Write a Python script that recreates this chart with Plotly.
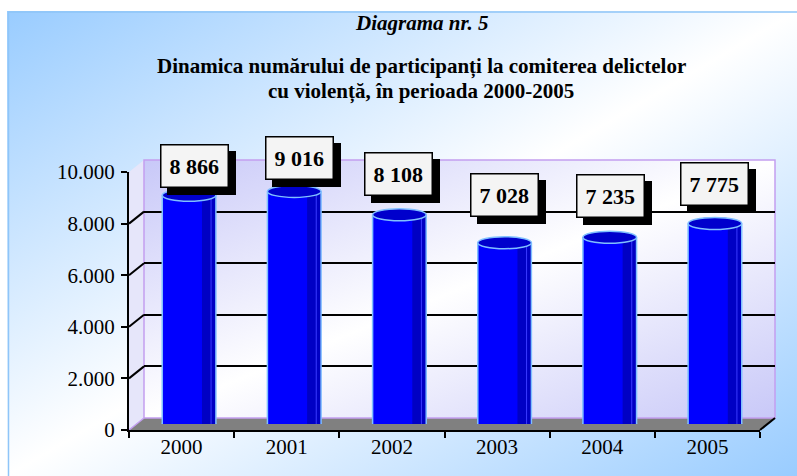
import base64
import plotly.graph_objects as go

# ---------------- data ----------------
YEARS = ["2000", "2001", "2002", "2003", "2004", "2005"]
VALUES = [8866, 9016, 8108, 7028, 7235, 7775]
Y_TICKS = [0, 2000, 4000, 6000, 8000, 10000]
TITLE_1 = "Diagrama nr. 5"
TITLE_2A = "Dinamica numărului de participanți la comiterea delictelor"
TITLE_2B = "cu violență, în perioada 2000-2005"

# ---------------- style / layout ----------------
W, H = 797, 476
FONT = "Liberation Serif, Times New Roman, serif"
BAR_W = 0.51
LABEL_DX = [5, 5, -1, 0, 1, 0]        # manual label offsets (px)
LABEL_DY = [29, 33, 41, 48, 41, 39]

def px_x(p):
    return p / W

def px_y(p):
    return 1 - p / H

# front (axis) plane, back wall plane, mid (bars) plane, in pixels
FRONT = dict(x=(129, 760), y=(430, 172))
BACK = dict(x=(144, 775), y=(418, 160))
MID = dict(x=(136.5, 767.5), y=(424, 166))


def grad_uri(w, h, c1, c2):
    svg = (f'<svg xmlns="http://www.w3.org/2000/svg" width="{w}" height="{h}" '
           f'viewBox="0 0 {w} {h}" preserveAspectRatio="none"><defs>'
           f'<linearGradient id="g" x1="0" y1="0" x2="1" y2="1">'
           f'<stop offset="0" stop-color="{c1}"/><stop offset="0.5" stop-color="{c2}"/>'
           f'<stop offset="1" stop-color="{c1}"/></linearGradient></defs>'
           f'<rect x="0" y="0" width="{w}" height="{h}" fill="url(#g)"/></svg>')
    return "data:image/svg+xml;base64," + base64.b64encode(svg.encode()).decode()


fig = go.Figure()

# invisible trace for the front (labelled) axes
fig.add_trace(go.Scatter(x=YEARS, y=VALUES, mode="markers", marker=dict(opacity=0),
                         hoverinfo="skip", showlegend=False, xaxis="x", yaxis="y"))
# invisible trace for back axes (gridlines)
fig.add_trace(go.Scatter(x=[0, 1], y=[0, 0], mode="markers", marker=dict(opacity=0),
                         hoverinfo="skip", showlegend=False, xaxis="x2", yaxis="y2"))

xs = list(range(len(YEARS)))
# cylinder body
fig.add_trace(go.Bar(x=xs, y=VALUES, width=BAR_W, offset=-BAR_W / 2,
                     marker=dict(color="#0000FF", line=dict(width=0)),
                     showlegend=False, xaxis="x3", yaxis="y3",
                     hovertext=YEARS, hoverinfo="text+y"))
# darker right side of cylinder
SH = 0.26
fig.add_trace(go.Bar(x=xs, y=VALUES, width=BAR_W * SH, offset=BAR_W / 2 - BAR_W * SH,
                     marker=dict(color="#0000C4", line=dict(width=0)),
                     showlegend=False, xaxis="x3", yaxis="y3", hoverinfo="skip"))

shapes = []
EDGE = "#80C0FF"
for i, v in zip(xs, VALUES):
    # bottom rounded edge
    shapes.append(dict(type="circle", xref="x3", yref="y3", ysizemode="pixel", yanchor=0,
                       x0=i - BAR_W / 2, x1=i + BAR_W / 2, y0=-5, y1=5,
                       fillcolor="#0000FF", line=dict(color=EDGE, width=1.5), layer="below"))
    # side outlines
    for sx in (i - BAR_W / 2, i + BAR_W / 2):
        shapes.append(dict(type="line", xref="x3", yref="y3", x0=sx, x1=sx, y0=0, y1=v,
                           line=dict(color=EDGE, width=1.5)))
    # thin highlight inside the dark side
    hx = i + BAR_W / 2 - BAR_W * 0.09
    shapes.append(dict(type="line", xref="x3", yref="y3", x0=hx, x1=hx, y0=0, y1=v,
                       line=dict(color="#3A3AFF", width=1)))
    # top ellipse
    shapes.append(dict(type="circle", xref="x3", yref="y3", ysizemode="pixel", yanchor=v,
                       x0=i - BAR_W / 2, x1=i + BAR_W / 2, y0=-6, y1=6,
                       fillcolor="#0000CC", line=dict(color=EDGE, width=1.5)))

PURPLE = "#C39FF0"
# outer border of the chart area
shapes.append(dict(type="rect", xref="paper", yref="paper", x0=px_x(8.5), x1=1.05,
                   y0=-0.05, y1=px_y(12), line=dict(color="#8FC5F8", width=1.5), layer="below"))
# side wall
fx0, bx0 = FRONT["x"][0], BACK["x"][0]
side_path = (f"M {px_x(fx0)},{px_y(FRONT['y'][0])} L {px_x(bx0)},{px_y(BACK['y'][0])} "
             f"L {px_x(bx0)},{px_y(BACK['y'][1])} L {px_x(fx0)},{px_y(FRONT['y'][1])} Z")
shapes.append(dict(type="path", xref="paper", yref="paper", path=side_path,
                   fillcolor="#E6E6FA", line=dict(width=0), layer="below"))
# floor
floor_path = (f"M {px_x(FRONT['x'][0])},{px_y(FRONT['y'][0])} L {px_x(FRONT['x'][1])},{px_y(FRONT['y'][0])} "
              f"L {px_x(BACK['x'][1])},{px_y(BACK['y'][0])} L {px_x(BACK['x'][0])},{px_y(BACK['y'][0])} Z")
shapes.append(dict(type="path", xref="paper", yref="paper", path=floor_path,
                   fillcolor="#808080", line=dict(width=0), layer="below"))
# back wall border
shapes.append(dict(type="rect", xref="paper", yref="paper",
                   x0=px_x(BACK["x"][0]), x1=px_x(BACK["x"][1]),
                   y0=px_y(BACK["y"][0]), y1=px_y(BACK["y"][1]),
                   line=dict(color=PURPLE, width=1.5), layer="below"))
# connectors between front axis ticks and back wall gridlines
dyp = FRONT["y"][0] - BACK["y"][0]
for t in Y_TICKS:
    edge = t in (Y_TICKS[0], Y_TICKS[-1])
    shapes.append(dict(type="line", xref="paper", yref="y", ysizemode="pixel", yanchor=t,
                       x0=px_x(FRONT["x"][0]), x1=px_x(BACK["x"][0]), y0=0, y1=dyp,
                       line=dict(color=PURPLE if edge else "black", width=1.5 if edge else 2),
                       layer="below"))
# right end of floor (front edge diagonal)
shapes.append(dict(type="line", xref="paper", yref="paper",
                   x0=px_x(FRONT["x"][1]), x1=px_x(BACK["x"][1]),
                   y0=px_y(FRONT["y"][0]), y1=px_y(BACK["y"][0]),
                   line=dict(color="black", width=2)))

annotations = []
LSIZE = 22
for i, v in zip(xs, VALUES):
    txt = "<b>" + f"{v:,}".replace(",", " ") + "</b>"
    # shadow
    annotations.append(dict(x=i, y=v, xref="x3", yref="y3", text=txt, showarrow=False,
                            xanchor="center", yanchor="middle",
                            xshift=LABEL_DX[i] + 7, yshift=LABEL_DY[i] - 7,
                            font=dict(family=FONT, size=LSIZE, color="black"),
                            bgcolor="black", bordercolor="black", borderwidth=1.5, borderpad=8))
    annotations.append(dict(x=i, y=v, xref="x3", yref="y3", text=txt, showarrow=False,
                            xanchor="center", yanchor="middle",
                            xshift=LABEL_DX[i], yshift=LABEL_DY[i],
                            font=dict(family=FONT, size=LSIZE, color="black"),
                            bgcolor="#F4F4F4", bordercolor="black", borderwidth=1.5, borderpad=8))

TFONT = dict(family=FONT, size=21, color="black")
for txt, yy in ((f"<b><i>{TITLE_1}</i></b>", 23), (f"<b>{TITLE_2A}</b>", 67),
                (f"<b>{TITLE_2B}</b>", 91)):
    annotations.append(dict(x=px_x(421), y=px_y(yy), xref="paper", yref="paper",
                            xanchor="center", yanchor="middle",
                            text=txt, showarrow=False, font=TFONT))

images = [
    dict(source=grad_uri(790, 465, "#99CCFF", "#FFFFFF"), xref="paper", yref="paper",
         x=px_x(7), y=px_y(11), sizex=(W - 7) / W, sizey=(H - 11) / H,
         xanchor="left", yanchor="top", sizing="stretch", layer="below"),
    dict(source=grad_uri(631, 258, "#C8C8F8", "#FFFFFF"), xref="paper", yref="paper",
         x=px_x(BACK["x"][0]), y=px_y(BACK["y"][1]),
         sizex=(BACK["x"][1] - BACK["x"][0]) / W, sizey=(BACK["y"][0] - BACK["y"][1]) / H,
         xanchor="left", yanchor="top", sizing="stretch", layer="below"),
]

AXFONT = dict(family=FONT, size=21, color="black")
fig.update_layout(
    template="none",
    width=W, height=H,
    autosize=False,
    margin=dict(l=0, r=0, t=0, b=0, pad=0, autoexpand=False),
    paper_bgcolor="white", plot_bgcolor="rgba(0,0,0,0)",
    separators=",.",
    barmode="overlay",
    showlegend=False,
    hovermode="closest",
    font=dict(family=FONT, color="black"),
    xaxis=dict(domain=[px_x(FRONT["x"][0]), px_x(FRONT["x"][1])], anchor="y", automargin=False,
               type="category", categoryorder="array", categoryarray=YEARS,
               range=[-0.5, len(YEARS) - 0.5], autorange=False,
               tickson="boundaries", ticks="outside", ticklen=6, tickwidth=2, tickcolor="black",
               ticklabelstandoff=-3,
               showline=True, linecolor="black", linewidth=2, showgrid=False, zeroline=False,
               tickfont=AXFONT, fixedrange=True),
    yaxis=dict(domain=[px_y(FRONT["y"][0]), px_y(FRONT["y"][1])], anchor="x", automargin=False,
               range=[0, 10000], autorange=False, tickmode="array", tickvals=Y_TICKS,
               tickformat=",d",
               ticks="outside", ticklen=6, tickwidth=2, tickcolor="black",
               ticklabelstandoff=2,
               showline=True, linecolor="black", linewidth=2, showgrid=False, zeroline=False,
               tickfont=AXFONT, fixedrange=True),
    xaxis2=dict(domain=[px_x(BACK["x"][0]), px_x(BACK["x"][1])], anchor="y2", range=[0, 1],
                automargin=False, showticklabels=False, ticks="", showgrid=False, zeroline=False,
                showline=False, fixedrange=True),
    yaxis2=dict(domain=[px_y(BACK["y"][0]), px_y(BACK["y"][1])], anchor="x2", range=[0, 10000],
                automargin=False, tickmode="array", tickvals=Y_TICKS[1:-1], showticklabels=False,
                ticks="", showgrid=True, gridcolor="black", gridwidth=2, zeroline=False,
                showline=False, fixedrange=True),
    xaxis3=dict(domain=[px_x(MID["x"][0]), px_x(MID["x"][1])], anchor="y3", range=[-0.5, 5.5],
                automargin=False, visible=False, fixedrange=True),
    yaxis3=dict(domain=[px_y(MID["y"][0]), px_y(MID["y"][1])], anchor="x3", range=[0, 10000],
                automargin=False, visible=False, fixedrange=True),
    shapes=shapes,
    annotations=annotations,
    images=images,
)

fig.write_html("out.html", config={"displayModeBar": False},
               post_script="document.body.style.margin='0px';document.body.style.overflow='hidden';")
